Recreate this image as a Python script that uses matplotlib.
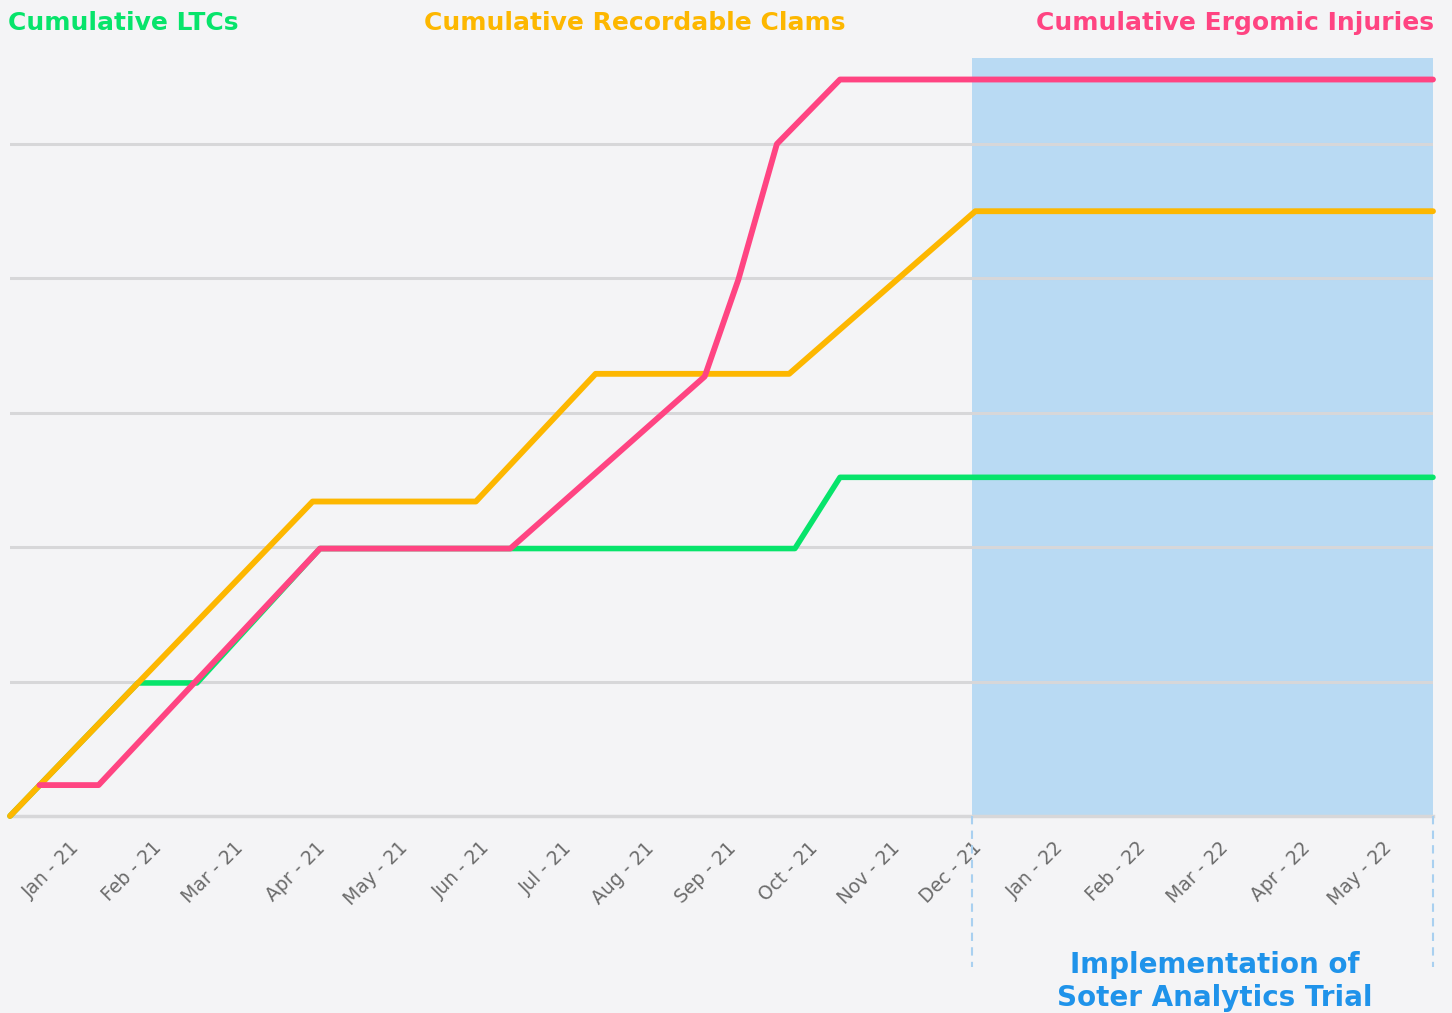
import numpy as np
import matplotlib
matplotlib.use("Agg")
import matplotlib.pyplot as plt

# month ticks (x in months, Jan-21 = 0)
months = ["Jan - 21", "Feb - 21", "Mar - 21", "Apr - 21", "May - 21", "Jun - 21",
          "Jul - 21", "Aug - 21", "Sep - 21", "Oct - 21", "Nov - 21", "Dec - 21",
          "Jan - 22", "Feb - 22", "Mar - 22", "Apr - 22", "May - 22"]

# series vertices (x in months, y in grid steps)
ltc_x = [-0.73, 0.83, 1.55, 3.05, 8.84, 9.39, 16.62]
ltc_y = [0.0, 0.99, 0.99, 1.99, 1.99, 2.52, 2.52]

clam_x = [-0.73, 2.96, 4.95, 6.41, 8.77, 11.04, 16.62]
clam_y = [0.0, 2.34, 2.34, 3.29, 3.29, 4.50, 4.50]

ergo_x = [-0.37, 0.35, 3.05, 5.37, 7.74, 8.15, 8.62, 9.39, 16.62]
ergo_y = [0.23, 0.23, 1.99, 1.99, 3.27, 3.99, 5.0, 5.48, 5.48]

trial_start = 11
grid_levels = [1, 2, 3, 4, 5]

bg = "#f4f4f6"
green = "#07e46b"
yellow = "#fdb700"
pink = "#ff4482"
shade = "#b9daf3"
blue_txt = "#1f93ea"

fig = plt.figure(figsize=(14.52, 10.13), dpi=100, facecolor=bg)
W, H = 1452, 1013
ax = fig.add_axes([10 / W, 1 - 816 / H, (1433 - 10) / W, (816 - 58) / H])
ax.set_facecolor(bg)
ax.set_xlim(-0.73, 16.62)
ax.set_ylim(0, 5.64)

ax.axvspan(trial_start, 16.62, color=shade, zorder=0, lw=0)
for lv in grid_levels:
    ax.axhline(lv, color="#d7d7d9", lw=2.2, zorder=1)
ax.axhline(0, color="#d7d7d9", lw=2.5, zorder=1, clip_on=False)

ax.plot(ltc_x, ltc_y, color=green, lw=4.0, zorder=3, clip_on=False, solid_capstyle="round")
ax.plot(clam_x, clam_y, color=yellow, lw=4.2, zorder=4, clip_on=False, solid_capstyle="round")
ax.plot(ergo_x, ergo_y, color=pink, lw=4.2, zorder=5, clip_on=False, solid_capstyle="round")

ax.set_xticks(range(len(months)))
ax.set_xticklabels(months, rotation=45, ha="right", va="top", rotation_mode="anchor",
                   color="#6b6b6b", fontsize=13.5, family="DejaVu Sans")
ax.tick_params(axis="x", length=0, pad=16)
ax.set_yticks([])
for s in ax.spines.values():
    s.set_visible(False)

# dashed markers for trial period below the axis
for xv in [trial_start, 16.62]:
    ax.plot([xv, xv], [0, -1.12], color="#a9d0f0", lw=1.5, ls=(0, (4, 3)),
            clip_on=False, zorder=2)

fig.text(1215 / W, 1 - 965 / H, "Implementation of", ha="center", va="center",
         color=blue_txt, fontsize=20, fontweight="bold", family="DejaVu Sans")
fig.text(1215 / W, 1 - 998 / H, "Soter Analytics Trial", ha="center", va="center",
         color=blue_txt, fontsize=20, fontweight="bold", family="DejaVu Sans")

fig.text(8 / W, 1 - 23 / H, "Cumulative LTCs", ha="left", va="center",
         color=green, fontsize=18, fontweight="bold", family="DejaVu Sans")
fig.text(635 / W, 1 - 23 / H, "Cumulative Recordable Clams", ha="center", va="center",
         color=yellow, fontsize=18, fontweight="bold", family="DejaVu Sans")
fig.text(1434 / W, 1 - 23 / H, "Cumulative Ergomic Injuries", ha="right", va="center",
         color=pink, fontsize=18, fontweight="bold", family="DejaVu Sans")

fig.savefig("out.png", dpi=100, facecolor=bg)
